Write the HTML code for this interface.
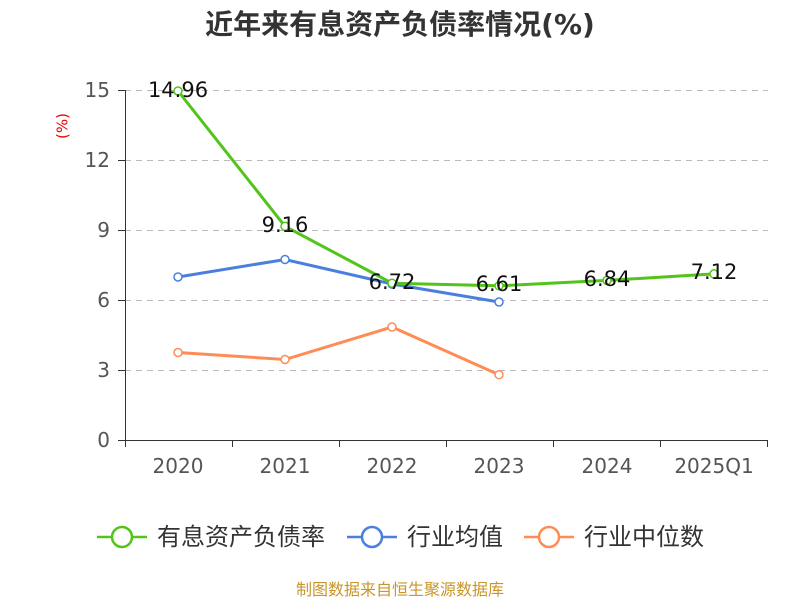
<!DOCTYPE html>
<html><head><meta charset="utf-8"><style>
body{margin:0;background:#fff;}
svg text{font-family:"DejaVu Sans","Noto Sans CJK SC",sans-serif;}
</style></head><body>
<svg width="800" height="600" viewBox="0 0 800 600" xmlns="http://www.w3.org/2000/svg">
<rect width="800" height="600" fill="#fff"/>
<text x="400" y="34" text-anchor="middle" font-size="28" font-weight="bold" fill="#333">近年来有息资产负债率情况(%)</text>
<text x="63" y="126" font-size="15" fill="#e00" transform="rotate(-90 63 126)" text-anchor="middle" dominant-baseline="middle">(%)</text>
<g stroke="#bbb" stroke-dasharray="6,5" stroke-width="1">
<line x1="125" y1="90.5" x2="768" y2="90.5"/>
<line x1="125" y1="160.5" x2="768" y2="160.5"/>
<line x1="125" y1="230.5" x2="768" y2="230.5"/>
<line x1="125" y1="300.5" x2="768" y2="300.5"/>
<line x1="125" y1="370.5" x2="768" y2="370.5"/>
</g>
<g stroke="#333" stroke-width="1">
<line x1="125.5" y1="90" x2="125.5" y2="440"/>
<line x1="125" y1="440.5" x2="768" y2="440.5"/>
<line x1="118" y1="90.5" x2="125" y2="90.5"/>
<line x1="118" y1="160.5" x2="125" y2="160.5"/>
<line x1="118" y1="230.5" x2="125" y2="230.5"/>
<line x1="118" y1="300.5" x2="125" y2="300.5"/>
<line x1="118" y1="370.5" x2="125" y2="370.5"/>
<line x1="118" y1="440.5" x2="125" y2="440.5"/>
<line x1="125.5" y1="440" x2="125.5" y2="447"/>
<line x1="232.5" y1="440" x2="232.5" y2="447"/>
<line x1="339.5" y1="440" x2="339.5" y2="447"/>
<line x1="446.5" y1="440" x2="446.5" y2="447"/>
<line x1="553.5" y1="440" x2="553.5" y2="447"/>
<line x1="660.5" y1="440" x2="660.5" y2="447"/>
<line x1="767.5" y1="440" x2="767.5" y2="447"/>
</g>
<g font-size="20" fill="#555" text-anchor="end">
<text x="110" y="97">15</text><text x="110" y="167">12</text><text x="110" y="237">9</text>
<text x="110" y="307">6</text><text x="110" y="377">3</text><text x="110" y="447">0</text>
</g>
<g font-size="20" fill="#555" text-anchor="middle">
<text x="178" y="473">2020</text><text x="285" y="473">2021</text><text x="392" y="473">2022</text>
<text x="499" y="473">2023</text><text x="607" y="473">2024</text><text x="714" y="473">2025Q1</text>
</g>
<polyline fill="none" stroke="#ff8c55" stroke-width="3" points="178,352.5 285,359.5 392,327 499,374.7"/>
<polyline fill="none" stroke="#4a7fe0" stroke-width="3" points="178,277 285,259.5 392,284 499,302"/>
<polyline fill="none" stroke="#52c41a" stroke-width="3" points="178,91 285,226.3 392,283.2 499,285.8 607,280.4 714,273.9"/>
<g fill="#fff" stroke-width="1.5">
<g stroke="#ff8c55"><circle cx="178" cy="352.5" r="4"/><circle cx="285" cy="359.5" r="4"/><circle cx="392" cy="327" r="4"/><circle cx="499" cy="374.7" r="4"/></g>
<g stroke="#4a7fe0"><circle cx="178" cy="277" r="4"/><circle cx="285" cy="259.5" r="4"/><circle cx="392" cy="284" r="4"/><circle cx="499" cy="302" r="4"/></g>
<g stroke="#52c41a"><circle cx="178" cy="91" r="4"/><circle cx="285" cy="226.3" r="4"/><circle cx="392" cy="283.2" r="4"/><circle cx="499" cy="285.8" r="4"/><circle cx="607" cy="280.4" r="4"/><circle cx="714" cy="273.9" r="4"/></g>
</g>
<g font-size="21" fill="#111" text-anchor="middle">
<text x="178" y="97">14.96</text><text x="285" y="232">9.16</text><text x="392" y="289">6.72</text>
<text x="499" y="291">6.61</text><text x="607" y="286">6.84</text><text x="714" y="279">7.12</text>
</g>
<g stroke-width="2.5" fill="#fff">
<line x1="97" y1="537" x2="147" y2="537" stroke="#52c41a"/><circle cx="122" cy="537" r="10" stroke="#52c41a"/>
<line x1="347" y1="537" x2="397" y2="537" stroke="#4a7fe0"/><circle cx="372" cy="537" r="10" stroke="#4a7fe0"/>
<line x1="524" y1="537" x2="574" y2="537" stroke="#ff8c55"/><circle cx="549" cy="537" r="10" stroke="#ff8c55"/>
</g>
<g font-size="24" fill="#333">
<text x="157" y="545">有息资产负债率</text><text x="407" y="545">行业均值</text><text x="584" y="545">行业中位数</text>
</g>
<text x="400" y="595" text-anchor="middle" font-size="16" fill="#c8962a">制图数据来自恒生聚源数据库</text>
</svg>
</body></html>
